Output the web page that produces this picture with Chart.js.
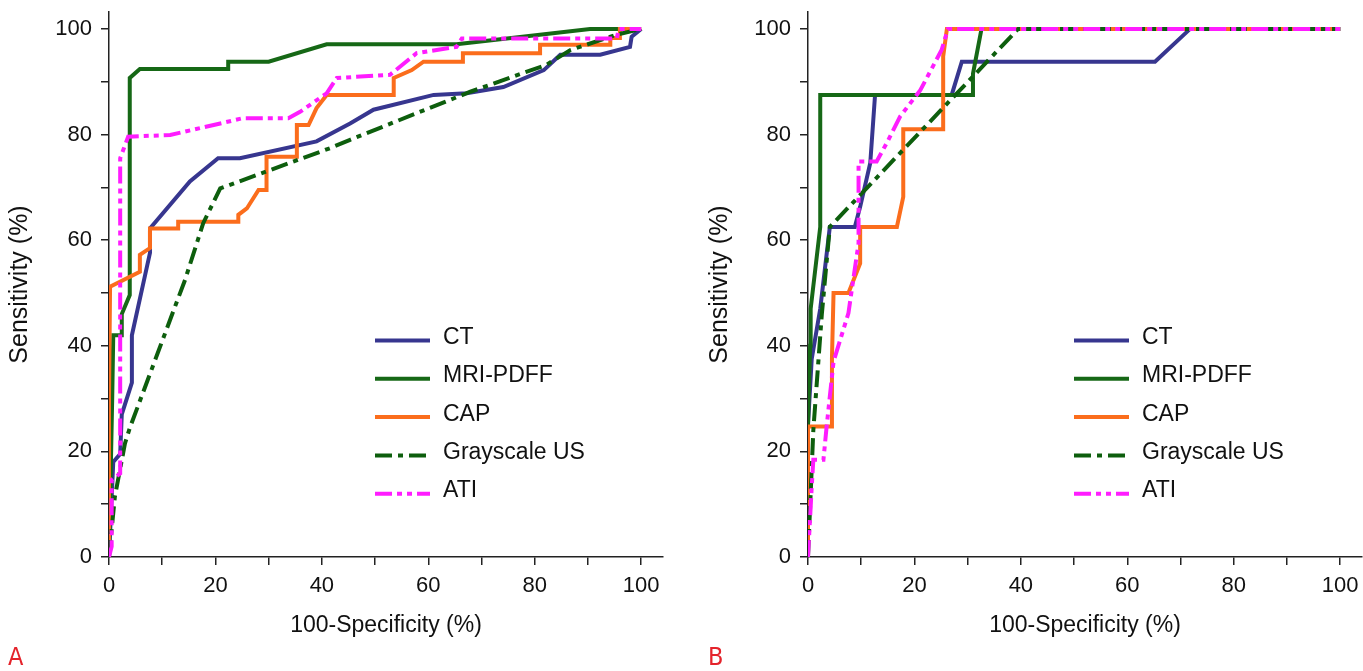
<!DOCTYPE html>
<html lang="en">
<head>
  <meta charset="UTF-8">
  <title>ROC curves</title>
  <script src="https://cdn.jsdelivr.net/npm/chart.js"></script>
  <style>
    body { margin: 0; background: #fff; width: 1363px; height: 671px; overflow: hidden; position: relative; }
    canvas { position: absolute; top: 0; }
    #chartA { left: 0; }
    #chartB { left: 700px; }
    .panel-tag {
      position: absolute;
      top: 642px;
      font: 25px "Liberation Sans Narrow", "DejaVu Sans Condensed", sans-serif;
      color: #e4232b;
    }
  </style>
</head>
<body>

<canvas id="chartA" width="680" height="650"></canvas>
<canvas id="chartB" width="663" height="650"></canvas>
<div class="panel-tag" style="left:8px;">A</div>
<div class="panel-tag" style="left:708px;">B</div>

<script>
  // series names / styles
  var seriesNames = ['CT', 'MRI-PDFF', 'CAP', 'Grayscale US', 'ATI'];
  var seriesColors = ['#37368f', '#166816', '#fb6d1c', '#0d5e0d', '#ff1cff'];
  var seriesDash = [[], [], [], [17, 6, 5, 6], [17, 5, 5, 5, 5, 5]];

  var tickValues = [0, 10, 20, 30, 40, 50, 60, 70, 80, 90, 100];

  // Panel A
  var ctA_x  = [0, 0.8, 2.1, 2.4, 4.3, 4.3, 7.7, 7.7, 15.2, 20.5, 24.6, 39, 45.3, 49.7, 61, 67.2, 74.1, 81.7, 84.8, 92.3, 97.9, 98.2, 100];
  var ctA_y  = [0, 18, 19.5, 27, 33, 42, 57.6, 62.2, 71.1, 75.5, 75.5, 78.7, 82.1, 84.7, 87.5, 87.8, 89, 92.2, 95.1, 95.1, 96.6, 98.5, 100];

  var mriA_x = [0, 0.6, 0.8, 2.4, 2.4, 3.9, 3.9, 5.8, 22.4, 22.4, 30, 40.9, 65.3, 90.4, 100];
  var mriA_y = [0, 30, 42, 42, 46, 49.6, 90.7, 92.4, 92.4, 93.8, 93.8, 97.1, 97.1, 100, 100];

  var capA_x = [0, 0, 0.2, 5.8, 5.8, 7.7, 7.7, 13, 13, 24.3, 24.3, 25.9, 28.1, 29.6, 29.6, 35.3, 35.3, 37.5, 39, 40.9, 53.5, 53.5, 56.9, 59.1, 66.5, 66.5, 81, 81, 94.2, 94.2, 96, 96, 100];
  var capA_y = [0, 30, 51.2, 54, 57.2, 58.5, 62.2, 62.2, 63.5, 63.5, 64.8, 66, 69.5, 69.5, 75.8, 75.8, 81.8, 81.8, 85, 87.5, 87.5, 90.7, 92.2, 93.8, 93.8, 95.4, 95.4, 97, 97, 98.3, 98.3, 100, 100];

  var usA_x  = [0, 1.1, 3, 3.9, 12.4, 14.3, 17.7, 20.9, 41.5, 45.3, 67.9, 82.2, 86.7, 95.4, 100];
  var usA_y  = [0, 11.4, 21.5, 24.4, 47.4, 52.5, 63.2, 69.8, 77.4, 79, 88.1, 93.2, 96, 98.9, 100];

  var atiA_x = [0, 0.5, 0.5, 2.1, 2.1, 3.6, 11.5, 25.2, 33.7, 35.9, 40.9, 42.8, 52.8, 57.8, 65.3, 66.3, 95.4, 95.8, 100];
  var atiA_y = [0, 2, 14.6, 15.8, 75.5, 79.6, 79.9, 83.1, 83.1, 84.3, 87.8, 90.7, 91.3, 95.4, 96.6, 98.2, 98.2, 100, 100];

  // Panel B
  var ctB_x  = [0, 0, 0.7, 2.3, 4.1, 8.8, 9.8, 11.7, 12.6, 27, 28.9, 65.2, 71.8, 100];
  var ctB_y  = [0, 25, 37.5, 47, 62.5, 62.5, 66.3, 74.6, 87.5, 87.5, 93.8, 93.8, 100, 100];

  var mriB_x = [0, 0, 0.4, 0.5, 2.3, 2.3, 31, 31, 32.6, 100];
  var mriB_y = [0, 25, 40, 47, 62.5, 87.5, 87.5, 91.5, 100, 100];

  var capB_x = [0, 0, 4.5, 4.5, 4.8, 7.6, 9.8, 9.8, 16.7, 17.9, 17.9, 25.4, 25.4, 26.1, 100];
  var capB_y = [0, 24.7, 24.7, 37.5, 50, 50, 55.6, 62.5, 62.5, 68.2, 81, 81, 94.8, 100, 100];

  var usB_x  = [0, 0.5, 1, 2.6, 4.1, 39.5, 100];
  var usB_y  = [0, 12, 24, 46, 62.5, 100, 100];

  var atiB_x = [0, 0.7, 1, 2.9, 3.5, 4.8, 7.6, 8.5, 9.5, 9.5, 12.9, 14.8, 17.3, 21.1, 25.1, 26.3, 100];
  var atiB_y = [0, 13.3, 18.4, 18.4, 24.7, 37, 46.2, 52.5, 59.4, 74.9, 74.9, 78.4, 83.4, 88.4, 96, 100, 100];

  var FONT = '"Liberation Sans", Arial, sans-serif';

  function pts(xs, ys) {
    return xs.map(function (x, i) { return { x: x, y: ys[i] }; });
  }

  // custom legend so the dash patterns show
  var rocLegend = {
    id: 'rocLegend',
    afterDatasetsDraw: function (chart) {
      var ctx = chart.ctx, area = chart.chartArea;
      ctx.save();
      seriesNames.forEach(function (name, i) {
        var y = area.top + 328.5 + i * 38.3;
        var x0 = area.left + 266;
        ctx.beginPath();
        ctx.setLineDash(seriesDash[i]);
        ctx.lineWidth = 4;
        ctx.strokeStyle = seriesColors[i];
        ctx.moveTo(x0, y);
        ctx.lineTo(x0 + 55, y);
        ctx.stroke();
        ctx.setLineDash([]);
        ctx.fillStyle = '#111';
        ctx.font = '23px ' + FONT;
        ctx.textBaseline = 'alphabetic';
        ctx.fillText(name, x0 + 68, y + 3.5);
      });
      ctx.restore();
    }
  };

  function makeChart(id, series, padRight, yWidth) {
    var datasets = series.map(function (s, i) {
      return {
        label: seriesNames[i],
        data: pts(s[0], s[1]),
        borderColor: seriesColors[i],
        borderDash: seriesDash[i],
        borderWidth: 4,
        pointRadius: 0,
        tension: 0,
        fill: false,
        order: 5 - i
      };
    });
    var axisCommon = {
      type: 'linear',
      min: 0,
      border: { display: true, color: '#222', width: 1.5 },
      grid: { drawOnChartArea: false, drawTicks: true, tickLength: 8, color: '#222', lineWidth: 1.5 },
      afterBuildTicks: function (scale) {
        scale.ticks = tickValues.map(function (v) { return { value: v }; });
      }
    };
    return new Chart(document.getElementById(id), {
      type: 'scatter',
      data: { datasets: datasets },
      options: {
        responsive: false,
        animation: false,
        showLine: true,
        layout: { padding: { top: 12, right: padRight, bottom: 0, left: 0 } },
        plugins: { legend: { display: false }, tooltip: { enabled: false } },
        scales: {
          x: Object.assign({}, axisCommon, {
            max: 104.1,
            ticks: {
              autoSkip: false, maxRotation: 0, padding: 8, color: '#111',
              font: { family: FONT, size: 22 },
              callback: function (v) { return v % 20 === 0 ? v : ''; }
            },
            title: { display: true, text: '100-Specificity (%)', color: '#111',
                     font: { family: FONT, size: 23 }, padding: { top: 0, bottom: 11 } },
            afterFit: function (scale) {
              scale.height = 93;
              scale.paddingLeft = 0;
              scale.paddingRight = 0;
            }
          }),
          y: Object.assign({}, axisCommon, {
            max: 103.2,
            ticks: {
              autoSkip: false, padding: 9, color: '#111',
              font: { family: FONT, size: 22 },
              callback: function (v) { return v % 20 === 0 ? v : ''; }
            },
            title: { display: true, text: 'Sensitivity (%)', color: '#111',
                     font: { family: FONT, size: 25 }, padding: { top: 5, bottom: 0 } },
            afterFit: function (scale) {
              scale.width = yWidth;
              scale.paddingTop = 0;
              scale.paddingBottom = 0;
            }
          })
        }
      },
      plugins: [rocLegend]
    });
  }

  makeChart('chartA', [[ctA_x, ctA_y], [mriA_x, mriA_y], [capA_x, capA_y], [usA_x, usA_y], [atiA_x, atiA_y]], 17, 109);
  makeChart('chartB', [[ctB_x, ctB_y], [mriB_x, mriB_y], [capB_x, capB_y], [usB_x, usB_y], [atiB_x, atiB_y]], 1, 108);
</script>
</body>
</html>
